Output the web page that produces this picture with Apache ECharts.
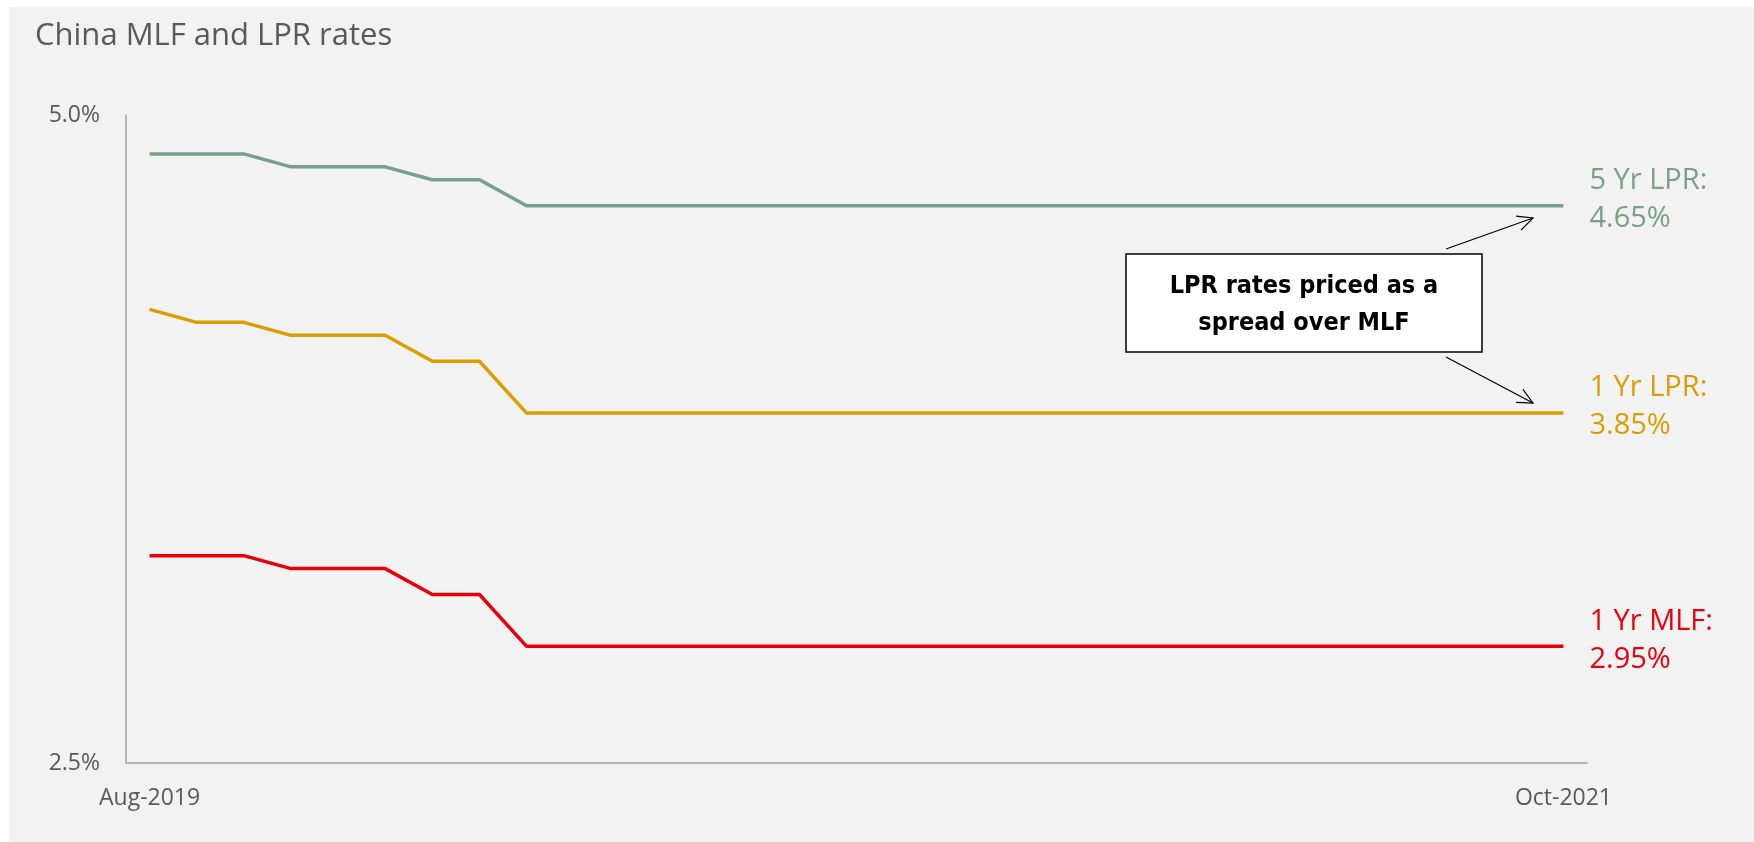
<!DOCTYPE html>
<html>
<head>
<meta charset="utf-8">
<title>China MLF and LPR rates</title>
<script src="https://cdn.jsdelivr.net/npm/echarts@6/dist/echarts.min.js"></script>
<style>
  html, body { margin: 0; padding: 0; background: #fff; }
  #chart { width: 1754px; height: 842px; }
</style>
</head>
<body>
<div id="chart"></div>
<script>
(function (window) {
  'use strict';

  // monthly observations, 31 points
  var months = [
    'Aug-2019', 'Sep-2019', 'Oct-2019', 'Nov-2019', 'Dec-2019', 'Jan-2020', 'Feb-2020', 'Mar-2020',
    'Apr-2020', 'May-2020', 'Jun-2020', 'Jul-2020', 'Aug-2020', 'Sep-2020', 'Oct-2020', 'Nov-2020',
    'Dec-2020', 'Jan-2021', 'Feb-2021', 'Mar-2021', 'Apr-2021', 'May-2021', 'Jun-2021', 'Jul-2021',
    'Aug-2021', 'Sep-2021', 'Oct-2021', 'Nov-2021', 'Dec-2021', 'Jan-2022', 'Feb-2022'
  ];
  // only the two end labels are printed on the axis
  var xTickLabels = ['Aug-2019', 'Oct-2021'];

  var lpr5y = [4.85, 4.85, 4.85, 4.80, 4.80, 4.80, 4.75, 4.75,
    4.65, 4.65, 4.65, 4.65, 4.65, 4.65, 4.65, 4.65, 4.65, 4.65, 4.65, 4.65, 4.65, 4.65, 4.65,
    4.65, 4.65, 4.65, 4.65, 4.65, 4.65, 4.65, 4.65];
  var lpr1y = [4.25, 4.20, 4.20, 4.15, 4.15, 4.15, 4.05, 4.05,
    3.85, 3.85, 3.85, 3.85, 3.85, 3.85, 3.85, 3.85, 3.85, 3.85, 3.85, 3.85, 3.85, 3.85, 3.85,
    3.85, 3.85, 3.85, 3.85, 3.85, 3.85, 3.85, 3.85];
  var mlf1y = [3.30, 3.30, 3.30, 3.25, 3.25, 3.25, 3.15, 3.15,
    2.95, 2.95, 2.95, 2.95, 2.95, 2.95, 2.95, 2.95, 2.95, 2.95, 2.95, 2.95, 2.95, 2.95, 2.95,
    2.95, 2.95, 2.95, 2.95, 2.95, 2.95, 2.95, 2.95];

  var yTicks = [2.5, 5.0];
  var FONT = '"Open Sans", Lato, sans-serif';
  var GREY = '#595959';

  function makeSeries(name, values, color) {
    return {
      name: name,
      type: 'line',
      data: values,
      symbol: 'none',
      lineStyle: { color: color, width: 3.5 },
      itemStyle: { color: color },
      animation: false,
      endLabel: {
        show: true,
        distance: 26,
        offset: [0, -6],
        align: 'left',
        fontFamily: FONT,
        fontSize: 29,
        lineHeight: 38,
        color: color,
        formatter: function (p) {
          return p.seriesName + ':\n' + p.value.toFixed(2) + '%';
        }
      }
    };
  }

  function arrow(x1, y1, x2, y2) {
    var a = Math.atan2(y2 - y1, x2 - x1);
    var h = 17, s = 0.45;
    return {
      type: 'group',
      silent: true,
      children: [
        { type: 'line', shape: { x1: x1, y1: y1, x2: x2, y2: y2 },
          style: { stroke: '#000', lineWidth: 1.2 } },
        { type: 'polyline', shape: { points: [
            [x2 - h * Math.cos(a - s), y2 - h * Math.sin(a - s)],
            [x2, y2],
            [x2 - h * Math.cos(a + s), y2 - h * Math.sin(a + s)]
          ] },
          style: { stroke: '#000', lineWidth: 1.2, fill: null } }
      ]
    };
  }

  var myChart = echarts.init(document.getElementById('chart'));
  var option = {
    backgroundColor: '#ffffff',
    animation: false,
    title: {
      text: 'China MLF and LPR rates',
      left: 30,
      top: 16,
      textStyle: { fontFamily: FONT, fontSize: 31, fontWeight: 'normal', color: GREY }
    },
    grid: { left: 126, right: 167, top: 115, bottom: 79 },
    xAxis: {
      type: 'category',
      data: months,
      boundaryGap: true,
      axisLine: { lineStyle: { color: '#a0a0a0', width: 1.5 } },
      axisTick: { show: false },
      axisLabel: {
        interval: 0,
        margin: 24,
        fontFamily: FONT,
        fontSize: 23,
        color: GREY,
        formatter: function (v, i) {
          if (i === 0) return xTickLabels[0];
          if (i === months.length - 1) return xTickLabels[1];
          return '';
        }
      }
    },
    yAxis: {
      type: 'value',
      min: yTicks[0],
      max: yTicks[1],
      interval: yTicks[1] - yTicks[0],
      axisLine: { show: true, lineStyle: { color: '#a0a0a0', width: 1.5 } },
      axisTick: { show: false },
      splitLine: { show: false },
      axisLabel: {
        margin: 26,
        fontFamily: FONT,
        fontSize: 23,
        color: GREY,
        formatter: function (v) { return v.toFixed(1) + '%'; }
      }
    },
    graphic: [
      { type: 'rect', z: -10, silent: true,
        shape: { x: 9, y: 7, width: 1754 - 9, height: 842 - 7 },
        style: { fill: '#f2f2f2' } },
      { type: 'rect', silent: true,
        shape: { x: 1126, y: 254, width: 356, height: 98 },
        style: { fill: '#ffffff', stroke: '#000', lineWidth: 1.5 } },
      { type: 'text', silent: true, x: 1304, y: 305,
        style: {
          text: 'LPR rates priced as a\nspread over MLF',
          fontFamily: '"Liberation Sans Narrow", "DejaVu Sans Condensed", sans-serif',
          fontWeight: 'bold', fontSize: 25, lineHeight: 37,
          fill: '#000', align: 'center', verticalAlign: 'middle'
        } },
      arrow(1446, 249, 1533, 218),
      arrow(1446, 357, 1533, 403)
    ],
    series: [
      makeSeries('5 Yr LPR', lpr5y, '#78a08a'),
      makeSeries('1 Yr LPR', lpr1y, '#d99e00'),
      makeSeries('1 Yr MLF', mlf1y, '#e8000b')
    ]
  };

  myChart.setOption(option);
})(window);
</script>
</body>
</html>
